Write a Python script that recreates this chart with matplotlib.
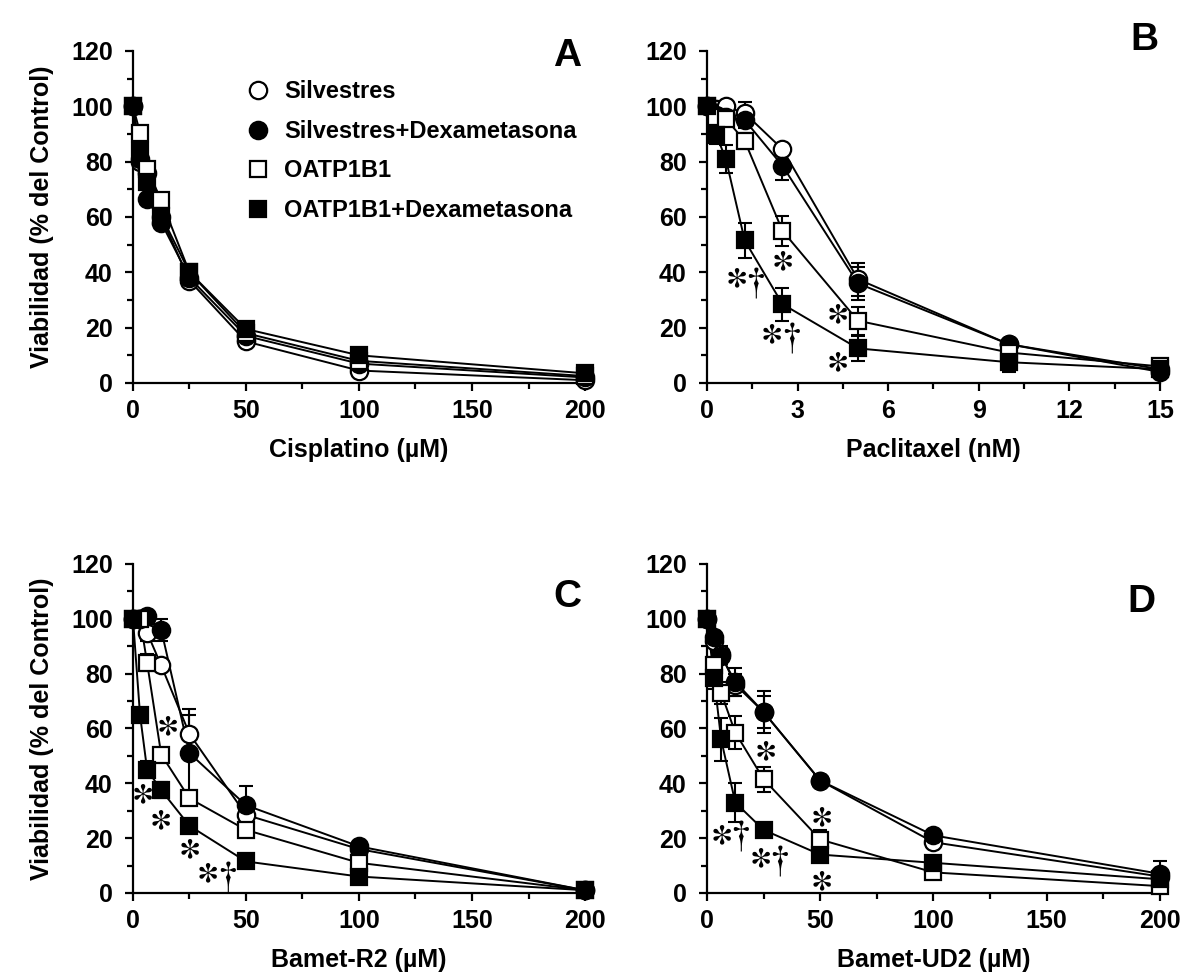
import matplotlib
matplotlib.use("Agg")
import matplotlib.pyplot as plt
from matplotlib.ticker import MultipleLocator

plt.rcParams['font.family'] = ['Liberation Sans', 'DejaVu Sans']
plt.rcParams['font.weight'] = 'bold'

series_names = ["Silvestres", "Silvestres+Dexametasona", "OATP1B1", "OATP1B1+Dexametasona"]

# Panel A - Cisplatino
cis_x = [0, 3.125, 6.25, 12.5, 25, 50, 100, 200]
cis_silv = [100, 80, 76, 60, 37, 15, 4.5, 1]
cis_silv_dex = [100, 81, 66.5, 58, 38, 17, 7, 2]
cis_oatp = [100, 90.5, 77.5, 66, 40, 18, 8, 2.5]
cis_oatp_dex = [100, 84, 72.5, 60.5, 40, 19.5, 10, 3.5]

# Panel B - Paclitaxel
pac_x = [0, 0.3125, 0.625, 1.25, 2.5, 5, 10, 15]
pac_silv = [100, 99, 100, 97.5, 84.5, 37.5, 14, 5]
pac_silv_dex = [100, 97, 96, 95, 78.5, 36, 14, 4]
pac_oatp = [100, 96, 95.5, 87.5, 55, 22.5, 11, 6]
pac_oatp_dex = [100, 89.5, 81, 51.5, 28.5, 12.5, 7.5, 5]
pac_silv_err = [0, 2, 2, 4, 2, 6, 2, 1]
pac_silv_dex_err = [0, 2, 2, 3, 5, 6, 2, 1]
pac_oatp_err = [0, 2, 2, 3, 5.5, 5, 2, 1]
pac_oatp_dex_err = [0, 3, 5, 6.5, 6, 4.5, 3.5, 1]

# Panel C - Bamet-R2
r2_x = [0, 3.125, 6.25, 12.5, 25, 50, 100, 200]
r2_silv = [100, 100, 95, 83, 58, 28.5, 16, 1]
r2_silv_dex = [100, 100, 101, 96, 51, 32, 17, 1]
r2_oatp = [100, 100, 84, 50.5, 34.5, 23, 11, 1]
r2_oatp_dex = [100, 65, 45, 37.5, 24.5, 11.5, 6, 1]
r2_silv_err = [0, 1, 3, 2, 7, 3, 2, 0.5]
r2_silv_dex_err = [0, 1, 1, 4, 16, 7, 2, 0.5]
r2_oatp_err = [0, 1, 3, 2, 2, 2, 1, 0.5]
r2_oatp_dex_err = [0, 1, 3, 3, 1, 1, 1, 0.5]

# Panel D - Bamet-UD2
ud2_x = [0, 3.125, 6.25, 12.5, 25, 50, 100, 200]
ud2_silv = [100, 92, 87, 76, 66, 41, 18.5, 6]
ud2_silv_dex = [100, 93.5, 86.5, 77, 66, 41, 21, 7]
ud2_oatp = [100, 83, 73, 58.5, 41.5, 19.5, 7.5, 2.5]
ud2_oatp_dex = [100, 78.5, 56, 33, 23, 14, 11, 5]
ud2_silv_err = [0, 2, 3, 4, 6, 2, 2, 2]
ud2_silv_dex_err = [0, 2, 3, 5, 7.5, 2, 2, 4.5]
ud2_oatp_err = [0, 3, 4, 6, 4.5, 3.5, 2, 1]
ud2_oatp_dex_err = [0, 4, 8, 7, 1, 2, 2, 1]

zero_err = [0] * 8

AST = r"$\ast$"
DAG = r"$\dagger$"

panels = [
    dict(letter="A", xlabel="Cisplatino (µM)", x=cis_x,
         ys=[cis_silv, cis_silv_dex, cis_oatp, cis_oatp_dex],
         errs=[zero_err, zero_err, zero_err, zero_err],
         xmax=200, xmajor=50, xminor=25, ylabel=True, legend=True,
         rect=[0.1123, 0.6092, 0.3818, 0.3388], letter_pos=(192, 118),
         marks=[]),
    dict(letter="B", xlabel="Paclitaxel (nM)", x=pac_x,
         ys=[pac_silv, pac_silv_dex, pac_oatp, pac_oatp_dex],
         errs=[pac_silv_err, pac_silv_dex_err, pac_oatp_err, pac_oatp_dex_err],
         xmax=15, xmajor=3, xminor=1.5, ylabel=False, legend=False,
         rect=[0.5971, 0.6092, 0.3826, 0.3388], letter_pos=(14.5, 124),
         marks=[(AST, 0.95, 38), (DAG, 1.62, 36), (AST, 2.48, 44.5),
                (AST, 2.1, 18), (DAG, 2.8, 16), (AST, 4.3, 25), (AST, 4.3, 7.7)]),
    dict(letter="C", xlabel="Bamet-R2 (µM)", x=r2_x,
         ys=[r2_silv, r2_silv_dex, r2_oatp, r2_oatp_dex],
         errs=[r2_silv_err, r2_silv_dex_err, r2_oatp_err, r2_oatp_dex_err],
         xmax=200, xmajor=50, xminor=25, ylabel=True, legend=False,
         rect=[0.1123, 0.0888, 0.3818, 0.3357], letter_pos=(192, 108),
         marks=[(AST, 14.7, 61), (AST, 3.8, 36.5), (AST, 11.7, 27), (AST, 24.6, 16.3),
                (AST, 32.3, 7.7), (DAG, 41.7, 5.7)]),
    dict(letter="D", xlabel="Bamet-UD2 (µM)", x=ud2_x,
         ys=[ud2_silv, ud2_silv_dex, ud2_oatp, ud2_oatp_dex],
         errs=[ud2_silv_err, ud2_silv_dex_err, ud2_oatp_err, ud2_oatp_dex_err],
         xmax=200, xmajor=50, xminor=25, ylabel=False, legend=False,
         rect=[0.5971, 0.0888, 0.3826, 0.3357], letter_pos=(192, 106),
         marks=[(AST, 5.8, 21.5), (DAG, 14.8, 20.5), (AST, 23.4, 13.0), (DAG, 32.2, 11.4),
                (AST, 25.2, 52), (AST, 50.3, 28), (AST, 50.3, 4.6)]),
]

styles = [
    dict(marker="o", mfc="white"),
    dict(marker="o", mfc="black"),
    dict(marker="s", mfc="white"),
    dict(marker="s", mfc="black"),
]

fig = plt.figure(figsize=(11.84, 9.80), dpi=100)

for p in panels:
    ax = fig.add_axes(p["rect"])
    handles = []
    for name, y, e, st in zip(series_names, p["ys"], p["errs"], styles):
        ax.errorbar(p["x"], y, yerr=e, fmt="none", ecolor="black",
                    elinewidth=1.5, capsize=5, capthick=1.5, zorder=2, clip_on=False)
        ax.plot(p["x"], y, color="black", linewidth=1.4, zorder=3, clip_on=False)
        h, = ax.plot(p["x"], y, linestyle="none", marker=st["marker"],
                     markersize=12.5 if st["marker"] == "o" else 12,
                     markerfacecolor=st["mfc"], markeredgecolor="black",
                     markeredgewidth=1.6, zorder=4, clip_on=False, label=name)
        handles.append(h)
    ax.set_xlim(0, p["xmax"])
    ax.set_ylim(0, 120)
    ax.xaxis.set_major_locator(MultipleLocator(p["xmajor"]))
    ax.xaxis.set_minor_locator(MultipleLocator(p["xminor"]))
    ax.yaxis.set_major_locator(MultipleLocator(20))
    ax.yaxis.set_minor_locator(MultipleLocator(10))
    for s in ["top", "right"]:
        ax.spines[s].set_visible(False)
    for s in ["left", "bottom"]:
        ax.spines[s].set_linewidth(1.6)
    ax.tick_params(which="major", direction="out", length=5.5, width=1.6, labelsize=18)
    ax.tick_params(which="minor", direction="out", length=4, width=1.6)
    ax.tick_params(axis="x", which="major", pad=6)
    ax.tick_params(axis="y", which="major", pad=9)
    for lab in ax.get_xticklabels() + ax.get_yticklabels():
        lab.set_fontweight("bold")
    ax.set_xlabel(p["xlabel"], fontsize=18, fontweight="bold", labelpad=11)
    if p["ylabel"]:
        ax.set_ylabel("Viabilidad (% del Control)", fontsize=18, fontweight="bold", labelpad=12)
    ax.text(p["letter_pos"][0], p["letter_pos"][1], p["letter"], fontsize=28,
            fontweight="bold", ha="center", va="center")
    for txt, mx, my in p["marks"]:
        ax.text(mx, my, txt, fontsize=30 if txt == AST else 27, ha="center", va="center",
                math_fontfamily="stix", zorder=5)
    if p["legend"]:
        ax.legend(handles=handles, loc="upper left", bbox_to_anchor=(0.23, 0.94),
                  frameon=False, handlelength=1.0, handletextpad=0.6,
                  labelspacing=0.7, borderaxespad=0,
                  prop=dict(weight="bold", size=17))

fig.savefig("out.png", dpi=100)
